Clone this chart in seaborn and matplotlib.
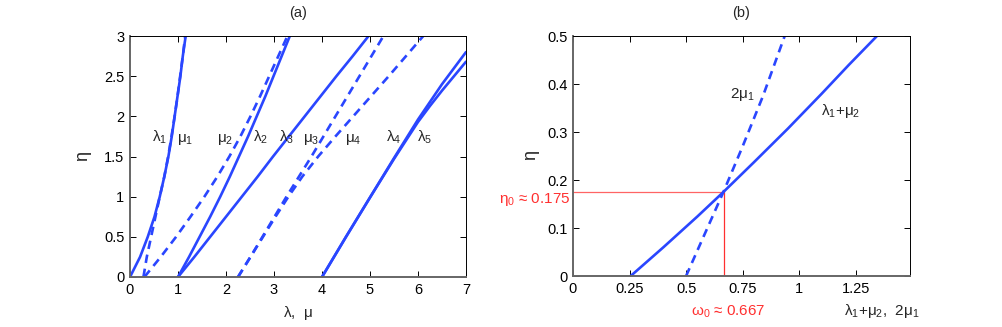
import matplotlib
matplotlib.use("Agg")
import matplotlib.pyplot as plt
import seaborn as sns
import pandas as pd

# ---------------- data ----------------
# panel (a): branches read as lambda/mu position at given eta levels
eta_a = [0.0, 0.25, 0.5, 0.75, 1.0, 1.25, 1.5, 1.75, 2.0, 2.25, 2.5, 2.75, 3.0]
lam1_x = [0.0, 0.21, 0.37, 0.51, 0.62, 0.715, 0.80, 0.87, 0.93, 0.99, 1.05, 1.10, 1.16]
mu1_x = [0.28, 0.35, 0.44, 0.53, 0.62, 0.715, 0.795, 0.865, 0.93, 0.99, 1.045, 1.10, 1.15]
mu2_x = [0.30, 0.64, 0.96, 1.26, 1.55, 1.82, 2.07, 2.30, 2.51, 2.71, 2.90, 3.09, 3.28]
lam2_x = [1.0, 1.23, 1.45, 1.67, 1.88, 2.08, 2.27, 2.46, 2.64, 2.82, 2.99, 3.16, 3.33]
lam3_x = [1.0, 1.34, 1.67, 2.0, 2.33, 2.66, 2.98, 3.31, 3.64, 3.97, 4.30, 4.64, 4.97]
mu3_x = [2.25, 2.51, 2.76, 3.01, 3.26, 3.52, 3.78, 4.03, 4.28, 4.53, 4.78, 5.03, 5.28]
mu4_x = [2.25, 2.51, 2.77, 3.03, 3.30, 3.59, 3.92, 4.28, 4.65, 5.02, 5.39, 5.75, 6.11]
# last two branches read as eta at given lambda
lam45_x = [4.0, 4.5, 5.0, 5.5, 6.0, 6.25, 6.5, 6.75, 7.0]
lam4_y = [0.0, 0.50, 0.99, 1.48, 1.96, 2.18, 2.40, 2.60, 2.80]
lam5_y = [0.0, 0.50, 0.99, 1.47, 1.93, 2.13, 2.32, 2.50, 2.68]

labels_a = [r"$\mathrm{\lambda}_1$", r"$\mathrm{\mu}_1$", r"$\mathrm{\mu}_2$",
            r"$\mathrm{\lambda}_2$", r"$\mathrm{\lambda}_3$", r"$\mathrm{\mu}_3$",
            r"$\mathrm{\mu}_4$", r"$\mathrm{\lambda}_4$", r"$\mathrm{\lambda}_5$"]
labels_a_x = [0.45, 0.97, 1.81, 2.56, 3.11, 3.60, 4.47, 5.33, 5.97]
labels_a_y = 1.68

xticks_a = [0, 1, 2, 3, 4, 5, 6, 7]
yticks_a = [0, 0.5, 1, 1.5, 2, 2.5, 3]
yticklabels_a = ["0", "0.5", "1", "1.5", "2", "2.5", "3"]

# panel (b)
sum_x = [0.255, 0.40, 0.55, 0.665, 0.80, 0.95, 1.10, 1.22, 1.344]
sum_y = [0.0, 0.06, 0.124, 0.175, 0.237, 0.307, 0.38, 0.44, 0.50]
twomu1_x = [0.50, 0.58, 0.665, 0.75, 0.84, 0.936]
twomu1_y = [0.0, 0.085, 0.175, 0.27, 0.375, 0.50]
eta0 = 0.175
omega0 = 0.667

xticks_b = [0, 0.25, 0.5, 0.75, 1, 1.25]
xticklabels_b = ["0", "0.25", "0.5", "0.75", "1", "1.25"]
yticks_b = [0, 0.1, 0.2, 0.3, 0.4, 0.5]
yticklabels_b = ["0", "0.1", "0.2", "0.3", "0.4", "0.5"]

# ---------------- style ----------------
sns.set_style("ticks")
plt.rcParams["font.family"] = ["Liberation Sans", "DejaVu Sans"]
plt.rcParams["mathtext.fontset"] = "custom"
plt.rcParams["mathtext.rm"] = "Liberation Sans"
plt.rcParams["mathtext.it"] = "Liberation Sans:italic"
plt.rcParams["font.size"] = 10.5

BLUE = "#2a46ff"
RED = "#ff3030"
LW = 1.9
LABEL_FS = 11

fig = plt.figure(figsize=(10.03, 3.27), dpi=100)
axa = fig.add_axes([130 / 1003, 1 - 277 / 327, 336 / 1003, 241 / 327])
axb = fig.add_axes([573 / 1003, 1 - 276 / 327, 337 / 1003, 240 / 327])


def curve(ax, xs, ys, dashed=False):
    df = pd.DataFrame({"x": xs, "y": ys})
    sns.lineplot(data=df, x="x", y="y", ax=ax, sort=False, estimator=None,
                 color=BLUE, lw=LW, linestyle="--" if dashed else "-",
                 dashes=False)
    ln = ax.lines[-1]
    ln.set_solid_joinstyle("round")
    if dashed:
        ln.set_dashes((3.2, 2.2))
        ln.set_dash_capstyle("butt")


# panel (a)
curve(axa, mu1_x, eta_a, dashed=True)
curve(axa, mu2_x, eta_a, dashed=True)
curve(axa, mu3_x, eta_a, dashed=True)
curve(axa, mu4_x, eta_a, dashed=True)
curve(axa, lam1_x, eta_a)
curve(axa, lam2_x, eta_a)
curve(axa, lam3_x, eta_a)
curve(axa, lam45_x, lam4_y)
curve(axa, lam45_x, lam5_y)
for t, x in zip(labels_a, labels_a_x):
    axa.text(x, labels_a_y, t, ha="left", va="baseline", fontsize=LABEL_FS)

axa.set_xlim(0, 7)
axa.set_ylim(0, 3)
axa.set_xticks(xticks_a)
axa.set_xticklabels([str(v) for v in xticks_a])
axa.set_yticks(yticks_a)
axa.set_yticklabels(yticklabels_a)
axa.set_xlabel(r"$\mathrm{\lambda}$,  $\mathrm{\mu}$", labelpad=5, fontsize=LABEL_FS)
axa.set_ylabel(r"$\mathrm{\eta}$", fontsize=13, labelpad=7)
axa.set_title("(a)", fontsize=10.5, pad=14)

# panel (b)
axb.plot([0, omega0], [eta0, eta0], color=RED, lw=0.9, alpha=0.75)
axb.plot([omega0, omega0], [0, eta0], color=RED, lw=0.9)
curve(axb, twomu1_x, twomu1_y, dashed=True)
curve(axb, sum_x, sum_y)
axb.text(0.695, 0.371, r"2$\mathrm{\mu}_1$", ha="left", va="baseline", fontsize=LABEL_FS)
axb.text(1.096, 0.335, r"$\mathrm{\lambda}_1$+$\mathrm{\mu}_2$", ha="left",
         va="baseline", fontsize=LABEL_FS)
axb.text(-0.01, 0.152, r"$\mathrm{\eta}_0$ ≈ 0.175", color=RED, ha="right",
         va="baseline", clip_on=False, fontsize=LABEL_FS)
axb.text(0.688, -0.082, r"$\mathrm{\omega}_0$ ≈ 0.667", color=RED, ha="center",
         va="baseline", clip_on=False, fontsize=LABEL_FS)
axb.text(1.535, -0.082, r"$\mathrm{\lambda}_1$+$\mathrm{\mu}_2$,  2$\mathrm{\mu}_1$",
         ha="right", va="baseline", clip_on=False, fontsize=LABEL_FS)

axb.set_xlim(0, 1.49)
axb.set_ylim(0, 0.5)
axb.set_xticks(xticks_b)
axb.set_xticklabels(xticklabels_b)
axb.set_yticks(yticks_b)
axb.set_yticklabels(yticklabels_b)
axb.set_xlabel("")
axb.set_ylabel(r"$\mathrm{\eta}$", fontsize=13, labelpad=4)
axb.set_title("(b)", fontsize=10.5, pad=14)

for ax in (axa, axb):
    ax.tick_params(direction="in", length=4, width=0.7, top=True, right=True,
                   labelsize=10.5, pad=4, colors="black")
    for s in ("top", "right"):
        ax.spines[s].set_visible(True)
        ax.spines[s].set_linewidth(0.7)
        ax.spines[s].set_color("black")
    for s in ("bottom", "left"):
        ax.spines[s].set_linewidth(1.4)
        ax.spines[s].set_color("0.4")

fig.savefig("out.png", dpi=100)
